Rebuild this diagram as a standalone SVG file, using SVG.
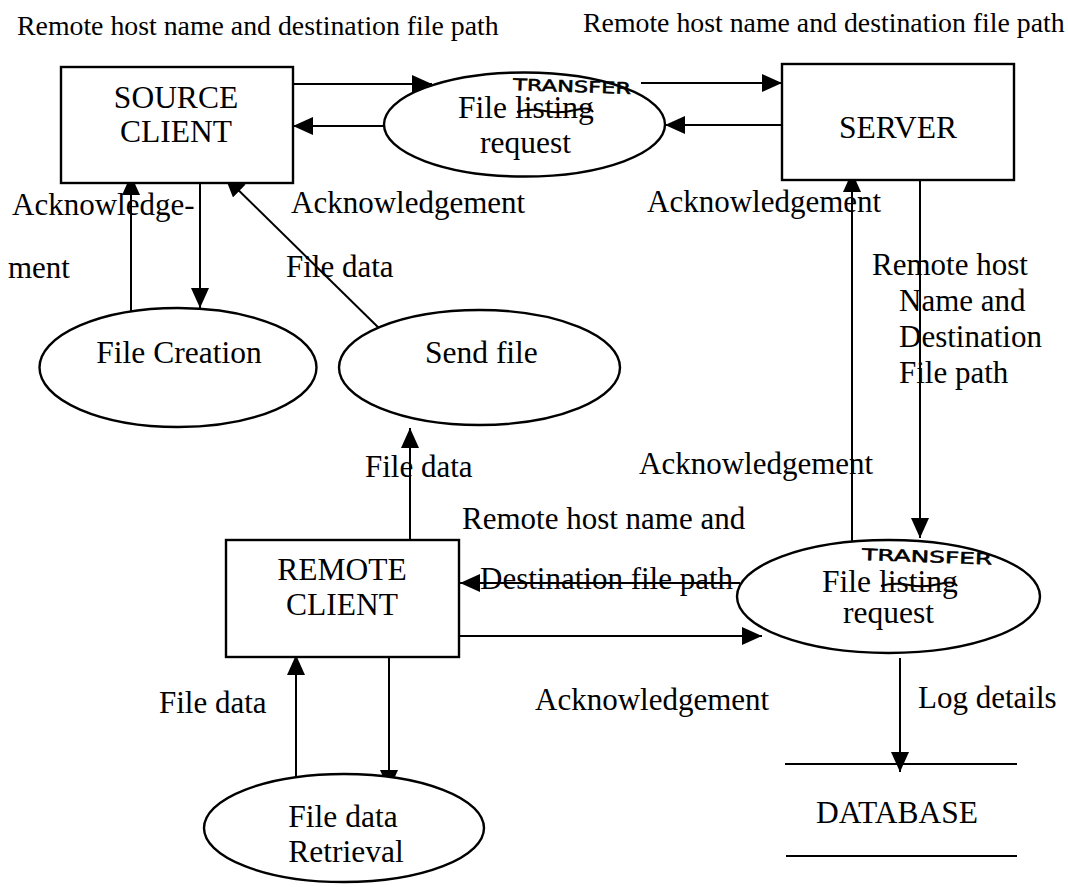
<svg xmlns="http://www.w3.org/2000/svg" width="1068" height="887" viewBox="0 0 1068 887" font-family="'Liberation Serif', Tinos, 'Times New Roman', 'DejaVu Serif', serif">
  <style>
    .node { fill: #fff; stroke: #000; stroke-width: 2.4; }
    .lbl { font-size: 31px; }
    .top { font-size: 27.8px; }
    .name { font-size: 31.5px; }
    .hand { font-family: "DejaVu Sans", sans-serif; font-size: 16px; stroke: #000; stroke-width: 0.5; }
    .flow { fill: none; stroke: #000; stroke-width: 2; marker-end: url(#arrow); }
    .strike { fill: none; stroke: #000; stroke-width: 2; }
    .rule { stroke: #000; stroke-width: 2; }
  </style>
  <defs>
    <marker id="arrow" markerUnits="userSpaceOnUse" markerWidth="21" markerHeight="19" refX="20" refY="9" orient="auto">
      <path d="M0,0 L20,9 L0,18 z" fill="#000"/>
    </marker>
  </defs>
  <rect width="1068" height="887" fill="#fff"/>

  <!-- connectors -->
  <g id="connectors">
    <path class="flow" d="M293,84 H432"/>
    <path class="flow" d="M385,126 H293"/>
    <path class="flow" d="M641,83 H782"/>
    <path class="flow" d="M782,125 H665"/>
    <path class="flow" d="M131,311 V175"/>
    <path class="flow" d="M200,183 V308"/>
    <path class="flow" d="M386,335 L225,177"/>
    <path class="flow" d="M410,540 V428"/>
    <path class="flow" d="M920,180 V538"/>
    <path class="flow" d="M852,542 V172"/>
    <path class="flow" d="M740,583 H460"/>
    <path class="flow" d="M459,636 H762"/>
    <path class="flow" d="M296,790 V655"/>
    <path class="flow" d="M389,657 V790"/>
    <path class="flow" d="M900,658 V772"/>
  </g>

  <!-- flow labels -->
  <g id="labels" fill="#000">
    <text class="top" x="17" y="35">Remote host name and destination file path</text>
    <text class="top" x="583" y="32">Remote host name and destination file path</text>
    <text class="lbl" x="12" y="215">Acknowledge-</text>
    <text class="lbl" x="8" y="278">ment</text>
    <text class="lbl" x="291" y="213">Acknowledgement</text>
    <text class="lbl" x="647" y="212">Acknowledgement</text>
    <text class="lbl" x="286" y="277">File data</text>
    <text class="lbl" x="872" y="275">Remote host</text>
    <text class="lbl" x="899" y="311">Name and</text>
    <text class="lbl" x="899" y="347">Destination</text>
    <text class="lbl" x="899" y="383">File path</text>
    <text class="lbl" x="365" y="477">File data</text>
    <text class="lbl" x="639" y="474">Acknowledgement</text>
    <text class="lbl" x="462" y="529">Remote host name and</text>
    <text class="lbl" x="480" y="589">Destination file path</text>
    <text class="lbl" x="535" y="710">Acknowledgement</text>
    <text class="lbl" x="918" y="708">Log details</text>
    <text class="lbl" x="159" y="713" font-size="33">File data</text>
  </g>

  <g id="source-client">
    <rect class="node" x="61" y="67" width="232" height="116"/>
    <text class="name" x="176" y="108" text-anchor="middle">SOURCE</text>
    <text class="name" x="176" y="142" text-anchor="middle">CLIENT</text>
  </g>

  <g id="transfer-request-top">
    <ellipse class="node" cx="524.5" cy="124.5" rx="140.5" ry="52"/>
    <text class="name" x="458" y="118">File listing</text>
    <path class="strike" d="M517,112 Q530,108 545,111 T575,110 T593,112"/>
    <text class="name" x="480" y="153">request</text>
    <text class="hand" x="513" y="90" textLength="118" lengthAdjust="spacingAndGlyphs" transform="rotate(2 513 90)">TRANSFER</text>
  </g>

  <g id="server">
    <rect class="node" x="782" y="64" width="232" height="116"/>
    <text class="name" x="898" y="138" text-anchor="middle">SERVER</text>
  </g>

  <g id="file-creation">
    <ellipse class="node" cx="178" cy="367.5" rx="138.5" ry="59.5"/>
    <text class="name" x="179" y="363" text-anchor="middle">File Creation</text>
  </g>

  <g id="send-file">
    <ellipse class="node" cx="479.5" cy="367.5" rx="140.5" ry="57.5"/>
    <text class="name" x="425" y="363">Send file</text>
  </g>

  <g id="remote-client">
    <rect class="node" x="226" y="540" width="233" height="117"/>
    <text class="name" x="342" y="580" text-anchor="middle">REMOTE</text>
    <text class="name" x="342" y="615" text-anchor="middle">CLIENT</text>
  </g>

  <g id="transfer-request-bottom">
    <ellipse class="node" cx="888.5" cy="596.5" rx="151.5" ry="56.5"/>
    <text class="name" x="822" y="592">File listing</text>
    <path class="strike" d="M881,586 Q894,582 909,585 T939,584 T957,586"/>
    <text class="name" x="843" y="623">request</text>
    <text class="hand" x="862" y="560" textLength="130" lengthAdjust="spacingAndGlyphs" transform="rotate(2 862 560)">TRANSFER</text>
  </g>

  <g id="file-data-retrieval">
    <ellipse class="node" cx="344" cy="828" rx="140" ry="54"/>
    <text class="name" x="343" y="827" text-anchor="middle">File data</text>
    <text class="name" x="346" y="862" text-anchor="middle">Retrieval</text>
  </g>

  <g id="database">
    <line class="rule" x1="785" y1="764" x2="1017" y2="764"/>
    <line class="rule" x1="786" y1="856" x2="1017" y2="856"/>
    <text class="name" x="897" y="823" text-anchor="middle" font-size="32.5">DATABASE</text>
  </g>
</svg>
